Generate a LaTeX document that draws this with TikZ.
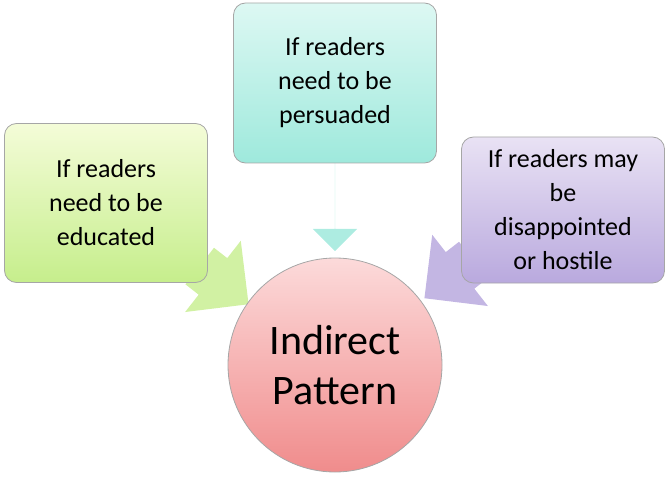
\documentclass[tikz,border=0pt]{standalone}
\usepackage{fontspec}
\setmainfont{Carlito}
\usetikzlibrary{shapes.arrows}
\tikzset{
	every node/.style = {font=\fontsize{26}{34}\selectfont},
	box/.style = {draw=black!35, rounded corners=12pt, minimum width=203pt, align=center, line width=0.8pt},
	pointer/.style = {single arrow, draw=none, inner xsep=0pt, inner ysep=23pt, single arrow head extend=22pt}
}
\definecolor{greenTop}{HTML}{F4FCD8}
\definecolor{greenBot}{HTML}{C6EE8C}
\definecolor{cyanTop}{HTML}{DDF8F3}
\definecolor{cyanBot}{HTML}{9EE9DC}
\definecolor{lilacTop}{HTML}{E9E2F4}
\definecolor{lilacBot}{HTML}{B9A9DE}
\definecolor{pinkTop}{HTML}{FCDADA}
\definecolor{pinkBot}{HTML}{F08C8C}

\begin{document}
\begin{tikzpicture}[x=1pt, y=-1pt]
		\useasboundingbox (0,0) rectangle (668,478);
		% arrows
		\node[pointer, fill=cyanBot!85, minimum height=88pt, shape border rotate=270] (upArrow) at (335,207) {};
		\node[pointer, fill=greenBot!80, minimum height=62pt, rotate=-38] (leftArrow) at (215,278) {};
		\node[pointer, fill=lilacBot!85, minimum height=62pt, rotate=218] (rightArrow) at (458,272) {};
		% boxes
		\node[box, top color=greenTop, bottom color=greenBot, minimum height=159pt] (educated) at (106,203) {If readers\\need to be\\educated};
		\node[box, top color=cyanTop, bottom color=cyanBot, minimum height=160pt] (persuaded) at (335,83) {If readers\\need to be\\persuaded};
		\node[box, top color=lilacTop, bottom color=lilacBot, minimum height=146pt] (hostile) at (563,210) {If readers may\\be\\disappointed\\or hostile};
		% centre
		\node[circle, draw=black!35, line width=0.8pt, top color=pinkTop, bottom color=pinkBot, minimum size=214pt, align=center, font=\fontsize{42}{50}\selectfont] (pattern) at (335,365) {Indirect\\Pattern};
	\end{tikzpicture}
\end{document}
